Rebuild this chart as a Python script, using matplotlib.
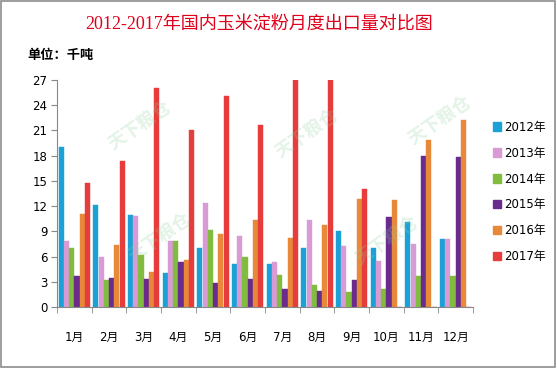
import matplotlib
matplotlib.use("Agg")
from matplotlib import pyplot as plt
from matplotlib.patches import Patch, Rectangle
import numpy as np

plt.rcParams['font.family'] = ['DejaVu Sans', 'Noto Sans CJK SC']

months = ['1月', '2月', '3月', '4月', '5月', '6月', '7月', '8月', '9月', '10月', '11月', '12月']
years = ['2012年', '2013年', '2014年', '2015年', '2016年', '2017年']
v2012 = [19.0, 12.1, 11.0, 4.0, 7.0, 5.1, 5.1, 7.0, 9.0, 7.0, 10.1, 8.1]
v2013 = [7.9, 5.9, 10.8, 7.9, 12.4, 8.5, 5.3, 10.3, 7.2, 5.5, 7.5, 8.1]
v2014 = [7.0, 3.2, 6.2, 7.8, 9.1, 6.0, 3.8, 2.6, 1.8, 2.2, 3.7, 3.7]
v2015 = [3.7, 3.4, 3.3, 5.3, 2.8, 3.3, 2.2, 1.9, 3.2, 10.7, 18.0, 17.8]
v2016 = [11.1, 7.4, 4.2, 5.6, 8.7, 10.4, 8.2, 9.8, 12.9, 12.7, 19.9, 22.2]
v2017 = [14.7, 17.4, 26.0, 21.0, 25.1, 21.6, 27.4, 27.4, 14.0, 0, 0, 0]
series = [v2012, v2013, v2014, v2015, v2016, v2017]
colors = ['#1ba1d6', '#d89bd6', '#82bc3e', '#6a2c8c', '#e8893a', '#e63c3c']

fig = plt.figure(figsize=(5.57, 3.68), dpi=100)
W, H = 557, 368
ax = fig.add_axes([57 / W, (H - 307) / H, (473 - 57) / W, (307 - 80) / H])

x = np.arange(len(months))
w = 0.153
for j, (vals, c) in enumerate(zip(series, colors)):
    ax.bar(x + (j - 2.5) * w, vals, width=w * 0.95, color=c, edgecolor=c,
           linewidth=0.3, label=years[j], zorder=2)

ax.set_xlim(-0.5, 11.5)
ax.set_ylim(0, 27)
ax.set_yticks(np.arange(0, 28, 3))
ax.set_xticks(x)
ax.set_xticklabels(months)
ax.set_xticks(np.arange(-0.5, 12, 1), minor=True)
ax.tick_params(axis='x', which='major', length=0, pad=17, labelsize=8.5)
ax.tick_params(axis='x', which='minor', length=4, color='#888888')
ax.tick_params(axis='y', length=4, color='#888888', labelsize=8.5, pad=3)
for s in ['top', 'right']:
    ax.spines[s].set_visible(False)
for s in ['left', 'bottom']:
    ax.spines[s].set_color('#888888')

# faint watermarks
for (px, py) in [(140, 125), (160, 237), (307, 133), (440, 120), (387, 240)]:
    fig.text(px / W, 1 - py / H, '天下粮仓', rotation=35, color='#8fcf9a', alpha=0.25,
             fontsize=13, fontweight='bold', ha='center', va='center', zorder=0,
             family=['Noto Sans CJK SC'])

handles = [Patch(facecolor=c, edgecolor=c) for c in colors]
fig.legend(handles, years, loc='center left', bbox_to_anchor=(482 / W, 1 - 192 / H),
           frameon=False, handlelength=0.7, handleheight=0.7,
           handletextpad=0.3, labelspacing=1.1,
           prop={'family': ['DejaVu Sans', 'Noto Sans CJK SC'], 'size': 8.5})

fig.text(259 / W, 1 - 25 / H, '2012-2017年国内玉米淀粉月度出口量对比图', ha='center', va='center',
         color='#e0001b', fontsize=13, family=['Liberation Serif', 'Noto Sans CJK SC'])
fig.text(27 / W, 1 - 55 / H, '单位：千吨', ha='left', va='center', fontsize=9.5,
         fontweight='bold', family=['Noto Sans CJK SC'])

fig.patches.append(Rectangle((0.002, 0.003), 0.995, 0.994, transform=fig.transFigure,
                             fill=False, edgecolor='#8c8c8c', linewidth=1.2))

fig.savefig('out.png', dpi=100)
